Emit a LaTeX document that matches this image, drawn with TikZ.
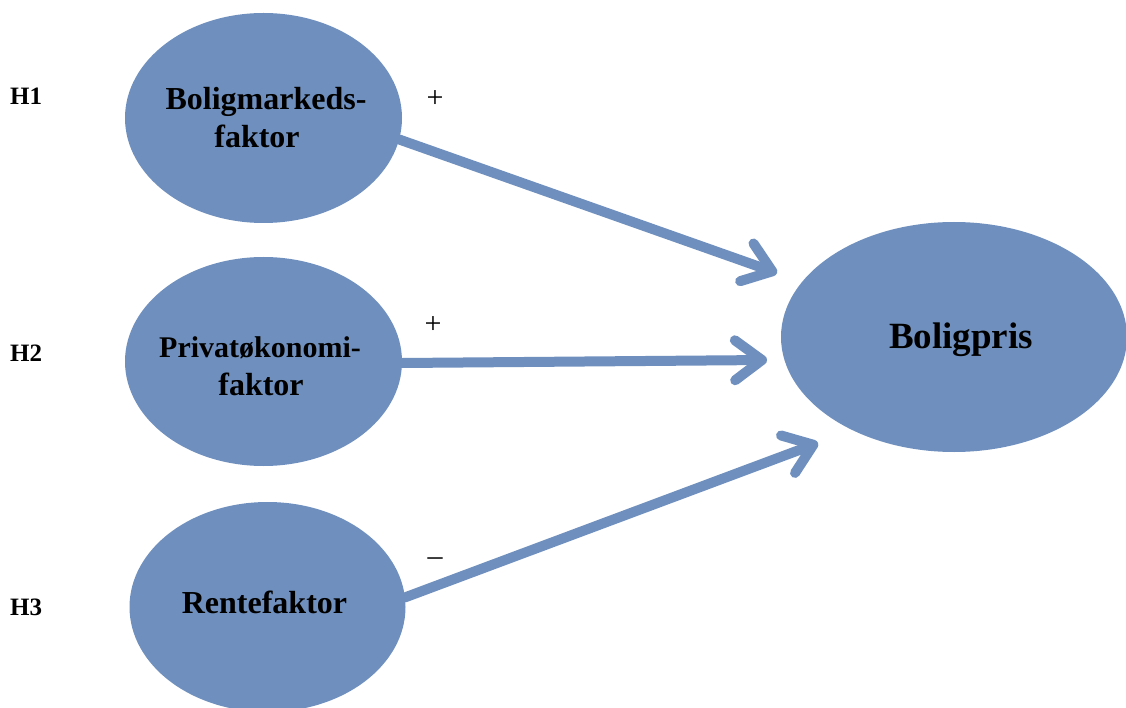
\documentclass[tikz,border=0pt]{standalone}
\usepackage{fontspec}
\setmainfont{Liberation Serif}
\usetikzlibrary{shapes.geometric,arrows.meta}
\definecolor{nodeblue}{RGB}{111,144,190}
\begin{document}
\begin{tikzpicture}[x=1pt,y=-1pt,
  blob/.style={ellipse,fill=nodeblue,draw=none,inner sep=0pt},
  lbl/.style={font=\bfseries\fontsize{32}{38}\selectfont,inner sep=0pt,anchor=base},
  hyp/.style={font=\bfseries\fontsize{25}{30}\selectfont,inner sep=0pt,anchor=base west},
  sign/.style={font=\fontsize{30}{34}\selectfont,inner sep=0pt},
  conn/.style={draw=nodeblue,line width=10pt,line cap=round,
    -{Straight Barb[length=27pt,width=40pt,line cap=round,line join=round]}}]
\useasboundingbox (0,0) rectangle (1126,708);
\fill[white] (0,0) rectangle (1126,708);
% ellipses
\node[blob,minimum width=277pt,minimum height=210pt] (e1) at (263.5,118) {};
\node[blob,minimum width=277pt,minimum height=209pt] (e2) at (263.5,361.5) {};
\node[blob,minimum width=276pt,minimum height=210pt] (e3) at (267.5,607) {};
\node[blob,minimum width=346pt,minimum height=230pt] (e4) at (954,337) {};
% texts
\node[lbl] (t1a) at (266,110) {Boligmarkeds-};
\node[lbl] (t1b) at (257,148) {faktor};
\node[lbl,font=\bfseries\fontsize{30}{38}\selectfont] (t2a) at (260,357) {Privatøkonomi-};
\node[lbl] (t2b) at (261,395) {faktor};
\node[lbl] (t3) at (264.5,613) {Rentefaktor};
\node[lbl,font=\bfseries\fontsize{37}{40}\selectfont] (t4) at (961,348) {Boligpris};
% hypothesis labels
\node[hyp] (h1) at (10,105) {H1};
\node[hyp] (h2) at (10,361) {H2};
\node[hyp] (h3) at (10,615) {H3};
% signs
\node[sign] (s1) at (435,99) {+};
\node[sign] (s2) at (433,325) {+};
\node[sign] (s3) at (435,562) {–};
% arrow tips
\coordinate (p1) at (777,273);
\coordinate (p2) at (767,360);
\coordinate (p3) at (818,443);
% connectors
\draw[conn] (e1.-9) -- (p1);
\draw[conn] ([yshift=-1.5pt]e2.east) -- (p2);
\draw[conn] (e3.4) -- (p3);
\end{tikzpicture}
\end{document}
